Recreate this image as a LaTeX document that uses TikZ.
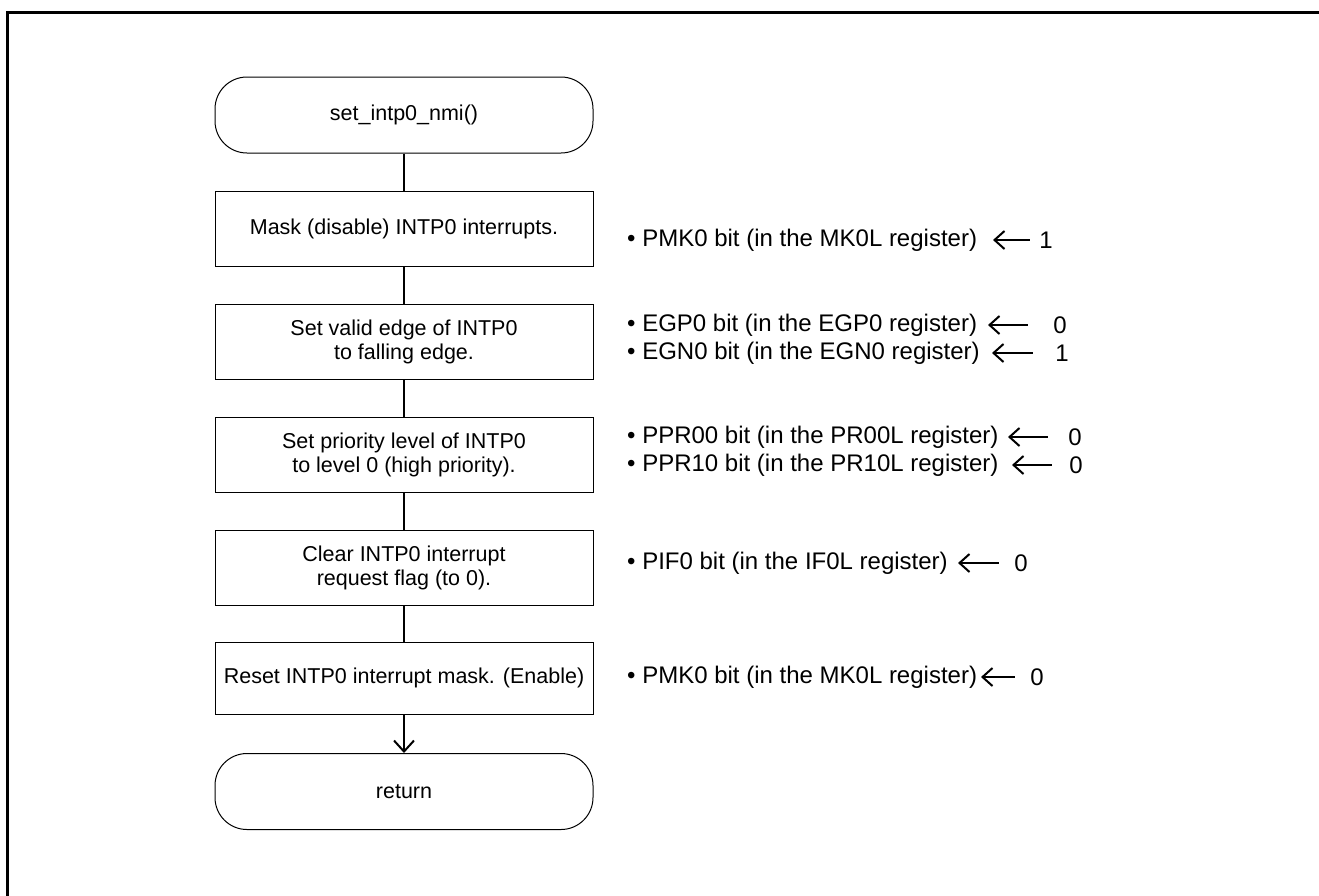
\documentclass[tikz,border=0pt]{standalone}
\usepackage{fontspec}
\setmainfont{Liberation Sans}
\usetikzlibrary{arrows.meta}
\begin{document}
\begin{tikzpicture}[x=1pt,y=-1pt,
 proc/.style={draw,line width=1pt,minimum width=378pt,minimum height=75pt,align=center,font=\fontsize{21.5}{24}\selectfont,inner sep=0pt},
 term/.style={proc,rounded corners=32pt,minimum height=76pt},
 flow/.style={line width=2pt},
 reg/.style={anchor=west,font=\fontsize{24}{28}\selectfont,inner sep=0pt},
 val/.style={font=\fontsize{24}{28}\selectfont,inner sep=0pt},
 assign/.style={line width=2pt,{Straight Barb[length=10pt,width=18pt]}-}]
\useasboundingbox (0,0) rectangle (1319,895);
\draw[line width=3pt] (7,896) -- (7,12) -- (1319,12);

\node[term] (start) at (404,115) {set\_intp0\_nmi()};
\node[proc] (b1) at (404,228.5) {Mask (disable) INTP0 interrupts.};
\node[proc] (b2) at (404,341.5) {Set valid edge of INTP0\\to falling edge.};
\node[proc] (b3) at (404,454.5) {Set priority level of INTP0\\to level 0 (high priority).};
\node[proc] (b4) at (404,567.5) {Clear INTP0 interrupt\\request flag (to 0).};
\node[proc,minimum height=72pt] (b5) at (404,678) {Reset INTP0 interrupt mask. (Enable)};
\node[term] (ret) at (404,791.5) {return};

\draw[flow] (start) -- (b1);
\draw[flow] (b1) -- (b2);
\draw[flow] (b2) -- (b3);
\draw[flow] (b3) -- (b4);
\draw[flow] (b4) -- (b5);
\draw[flow,-{Straight Barb[length=11pt,width=20pt]}] (b5) -- (ret);

% register settings
\node[reg] (r1) at (627,240) {\textbullet\ PMK0 bit (in the MK0L register)};
\node[val] (v1) at (1046,240) {1};
\coordinate (h1) at (993,240); \coordinate (t1) at (1030,240);
\draw[assign] (h1) -- (t1);

\node[reg] (r2a) at (627,325) {\textbullet\ EGP0 bit (in the EGP0 register)};
\node[val] (v2a) at (1060,325) {0};
\coordinate (h2a) at (988,325); \coordinate (t2a) at (1028,325);
\draw[assign] (h2a) -- (t2a);
\node[reg] (r2b) at (627,353) {\textbullet\ EGN0 bit (in the EGN0 register)};
\node[val] (v2b) at (1062,353) {1};
\coordinate (h2b) at (992,353); \coordinate (t2b) at (1033,353);
\draw[assign] (h2b) -- (t2b);

\node[reg] (r3a) at (627,437) {\textbullet\ PPR00 bit (in the PR00L register)};
\node[val] (v3a) at (1075,437) {0};
\coordinate (h3a) at (1008,437); \coordinate (t3a) at (1048,437);
\draw[assign] (h3a) -- (t3a);
\node[reg] (r3b) at (627,465) {\textbullet\ PPR10 bit (in the PR10L register)};
\node[val] (v3b) at (1076,465) {0};
\coordinate (h3b) at (1012,465); \coordinate (t3b) at (1052,465);
\draw[assign] (h3b) -- (t3b);

\node[reg] (r4) at (627,563) {\textbullet\ PIF0 bit (in the IF0L register)};
\node[val] (v4) at (1021,563) {0};
\coordinate (h4) at (958,563); \coordinate (t4) at (999,563);
\draw[assign] (h4) -- (t4);

\node[reg] (r5) at (627,677) {\textbullet\ PMK0 bit (in the MK0L register)};
\node[val] (v5) at (1037,677) {0};
\coordinate (h5) at (981,677); \coordinate (t5) at (1015,677);
\draw[assign] (h5) -- (t5);
\end{tikzpicture}
\end{document}
